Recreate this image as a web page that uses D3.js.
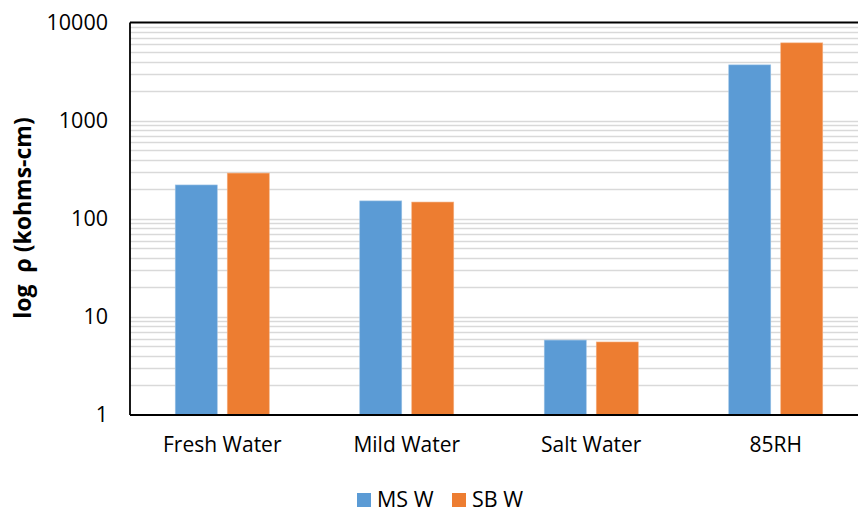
<!DOCTYPE html>
<html>
<head>
<meta charset="utf-8">
<script src="https://cdn.jsdelivr.net/npm/d3@7"></script>
<style>
  html, body { margin: 0; padding: 0; background: #fff; }
  svg { display: block; }
</style>
</head>
<body>
<svg id="chart" width="858" height="512"></svg>
<script>
const categories = ["Fresh Water", "Mild Water", "Salt Water", "85RH"];
const seriesNames = ["MS W", "SB W"];
const msW = [221, 152, 5.8, 3700];
const sbW = [292, 148, 5.55, 6200];
const yTicks = [1, 10, 100, 1000, 10000];
const colors = ["#5b9bd5", "#ed7d31"];
const yTitle = "log  ρ (kohms-cm)";

const svg = d3.select("#chart");
const font = "'Open Sans', 'Noto Sans', sans-serif";
const L = 130, R = 868, T = 22.5, B = 415;

const x = d3.scaleBand().domain(categories).range([L, R]).paddingInner(0).paddingOuter(0);
const xs = d3.scaleBand().domain(seriesNames).range([0, x.bandwidth()]).paddingInner(0.192).paddingOuter(0.87);
const y = d3.scaleLog().domain([1, 10000]).range([B, T]);

// gridlines (minor + major)
const gridVals = [];
for (let e = 0; e < 4; e++) for (let m = 1; m <= 9; m++) gridVals.push(m * Math.pow(10, e));
svg.append("g").selectAll("line").data(gridVals.filter(v => v > 1 && v < 10000)).join("line")
  .attr("x1", L).attr("x2", R)
  .attr("y1", d => Math.round(y(d)) + 0.5).attr("y2", d => Math.round(y(d)) + 0.5)
  .attr("stroke", "#d9d9d9").attr("stroke-width", 1.3);

// bars
const series = [msW, sbW];
const g = svg.append("g");
series.forEach((vals, si) => {
  g.selectAll(null).data(vals).join("rect")
    .attr("x", (d, i) => x(categories[i]) + xs(seriesNames[si]))
    .attr("width", xs.bandwidth())
    .attr("y", d => y(d))
    .attr("height", d => y(1) - y(d))
    .attr("fill", colors[si])
    .attr("stroke", si === 0 ? "#9cc3e6" : "#f4b183")
    .attr("stroke-width", 0.6);
});

// frame: left, top, bottom
svg.append("line").attr("x1", L).attr("x2", R).attr("y1", T).attr("y2", T).attr("stroke", "#000").attr("stroke-width", 1.8);
svg.append("line").attr("x1", L).attr("x2", R).attr("y1", B).attr("y2", B).attr("stroke", "#000").attr("stroke-width", 1.8);
svg.append("line").attr("x1", L).attr("x2", L).attr("y1", T).attr("y2", B).attr("stroke", "#000").attr("stroke-width", 1.8);

// y tick labels
const yAxis = d3.axisLeft(y).tickValues(yTicks).tickFormat(d3.format("d")).tickSize(0).tickPadding(22);
const ya = svg.append("g").attr("transform", `translate(${L},0)`).call(yAxis);
ya.select(".domain").remove();
ya.selectAll("text").attr("font-family", font).attr("font-size", 21.5).attr("fill", "#000");

// x labels
const xAxis = d3.axisBottom(x).tickSize(0).tickPadding(22);
const xa = svg.append("g").attr("transform", `translate(0,${B})`).call(xAxis);
xa.select(".domain").remove();
xa.selectAll("text").attr("font-family", font).attr("font-size", 21).attr("fill", "#000");

// y title
svg.append("text")
  .attr("transform", "translate(31,218) rotate(-90)")
  .attr("text-anchor", "middle")
  .attr("font-family", font).attr("font-size", 23).attr("font-weight", "bold")
  .attr("fill", "#000")
  .style("white-space", "pre")
  .attr("xml:space", "preserve")
  .text(yTitle);

// legend
const legendX = [357, 452];
seriesNames.forEach((s, i) => {
  svg.append("rect").attr("x", legendX[i]).attr("y", 493).attr("width", 14).attr("height", 14).attr("fill", colors[i]);
  svg.append("text").attr("x", legendX[i] + 20).attr("y", 507)
    .attr("font-family", font).attr("font-size", 21.5).attr("fill", "#000").text(s);
});
</script>
</body>
</html>
